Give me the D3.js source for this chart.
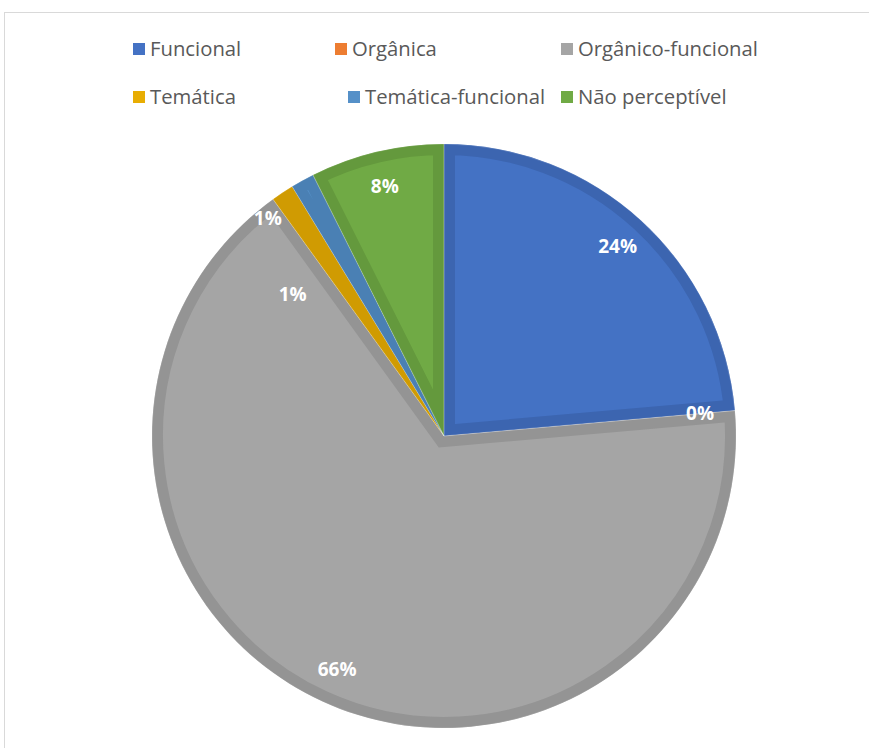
<!DOCTYPE html>
<html>
<head>
<meta charset="utf-8">
<script src="https://cdn.jsdelivr.net/npm/d3@7"></script>
<style>
  body { margin: 0; background: #fff; }
  svg { display: block; }
</style>
</head>
<body>
<div id="chart"></div>
<script>
// data (share of each category, in %)
const categories = ["Funcional", "Orgânica", "Orgânico-funcional", "Temática", "Temática-funcional", "Não perceptível"];
const values = [23.6, 0, 66.4, 1.25, 1.3, 7.4];
const labels = ["24%", "0%", "66%", "1%", "1%", "8%"];

// slice colours and the darker inner band of each slice
const fills = ["#4472C4", "#ED7D31", "#A5A5A5", "#E8AD03", "#5590C8", "#70AA45"];
const bands = ["#3C65B0", "#D06A28", "#949494", "#D09B02", "#4A80B4", "#64993D"];

// the two small labels are moved apart (best fit), everything else sits on the label ring
const labelShift = {3: {angle: -39, r: 280}, 4: {angle: -47, r: 207}};

const width = 869, height = 748;
const cx = 444, cy = 436, radius = 292, labelR = 257, bandW = 11;

const svg = d3.select("#chart").append("svg")
    .attr("width", width)
    .attr("height", height);

// chart frame
svg.append("rect")
    .attr("x", 4.5).attr("y", 12.5)
    .attr("width", width + 10).attr("height", height + 10)
    .attr("fill", "none")
    .attr("stroke", "#D9D9D9");

// legend, 3 per row
const legendCols = [133, 335, 561];
const legendRows = [49, 97];
const legend = svg.append("g").attr("class", "legend");
categories.forEach((c, i) => {
    let col = i % 3, row = Math.floor(i / 3);
    let x = legendCols[col];
    if (i === 4) x = 348;
    let g = legend.append("g").attr("transform", `translate(${x},${legendRows[row]})`);
    g.append("rect")
        .attr("x", 0).attr("y", -6)
        .attr("width", 12).attr("height", 12)
        .attr("fill", fills[i]);
    g.append("text")
        .attr("x", 17).attr("y", 0)
        .attr("dy", "0.35em")
        .attr("fill", "#595959")
        .style("font-family", "'Open Sans', 'Noto Sans', sans-serif")
        .style("font-size", "20.3px")
        .text(c);
});

// pie
const pie = d3.pie().sort(null).value(d => d);
const arcs = pie(values);
const arc = d3.arc().innerRadius(0).outerRadius(radius);

const pieG = svg.append("g").attr("transform", `translate(${cx},${cy})`);
const defs = svg.append("defs");

arcs.forEach((d, i) => {
    defs.append("clipPath").attr("id", "clip" + i)
        .append("path").attr("d", arc(d));
});

pieG.selectAll("path.slice")
    .data(arcs.filter(d => d.value > 0))
    .enter()
    .append("path")
    .attr("class", "slice")
    .attr("d", arc)
    .attr("fill", d => fills[d.index])
    .attr("stroke", d => bands[d.index])
    .attr("stroke-width", bandW * 2)
    .attr("stroke-linejoin", "miter")
    .attr("clip-path", d => `url(#clip${d.index})`);

// thin separators between slices
pieG.selectAll("path.sep")
    .data(arcs.filter(d => d.value > 0))
    .enter()
    .append("path")
    .attr("class", "sep")
    .attr("d", arc)
    .attr("fill", "none")
    .attr("stroke", "rgba(255,255,255,0.3)")
    .attr("stroke-width", 0.6);

// data labels
pieG.selectAll("text.lbl")
    .data(arcs)
    .enter()
    .append("text")
    .attr("class", "lbl")
    .attr("transform", (d, i) => {
        let a = (d.startAngle + d.endAngle) / 2, r = labelR;
        if (labelShift[i]) { a = labelShift[i].angle * Math.PI / 180; r = labelShift[i].r; }
        return `translate(${r * Math.sin(a)},${-r * Math.cos(a)})`;
    })
    .attr("text-anchor", "middle")
    .attr("dy", "0.35em")
    .attr("fill", "#fff")
    .style("font-family", "'Open Sans', 'Noto Sans', sans-serif")
    .style("font-weight", "bold")
    .style("font-size", "19px")
    .text((d, i) => labels[i]);
</script>
</body>
</html>
